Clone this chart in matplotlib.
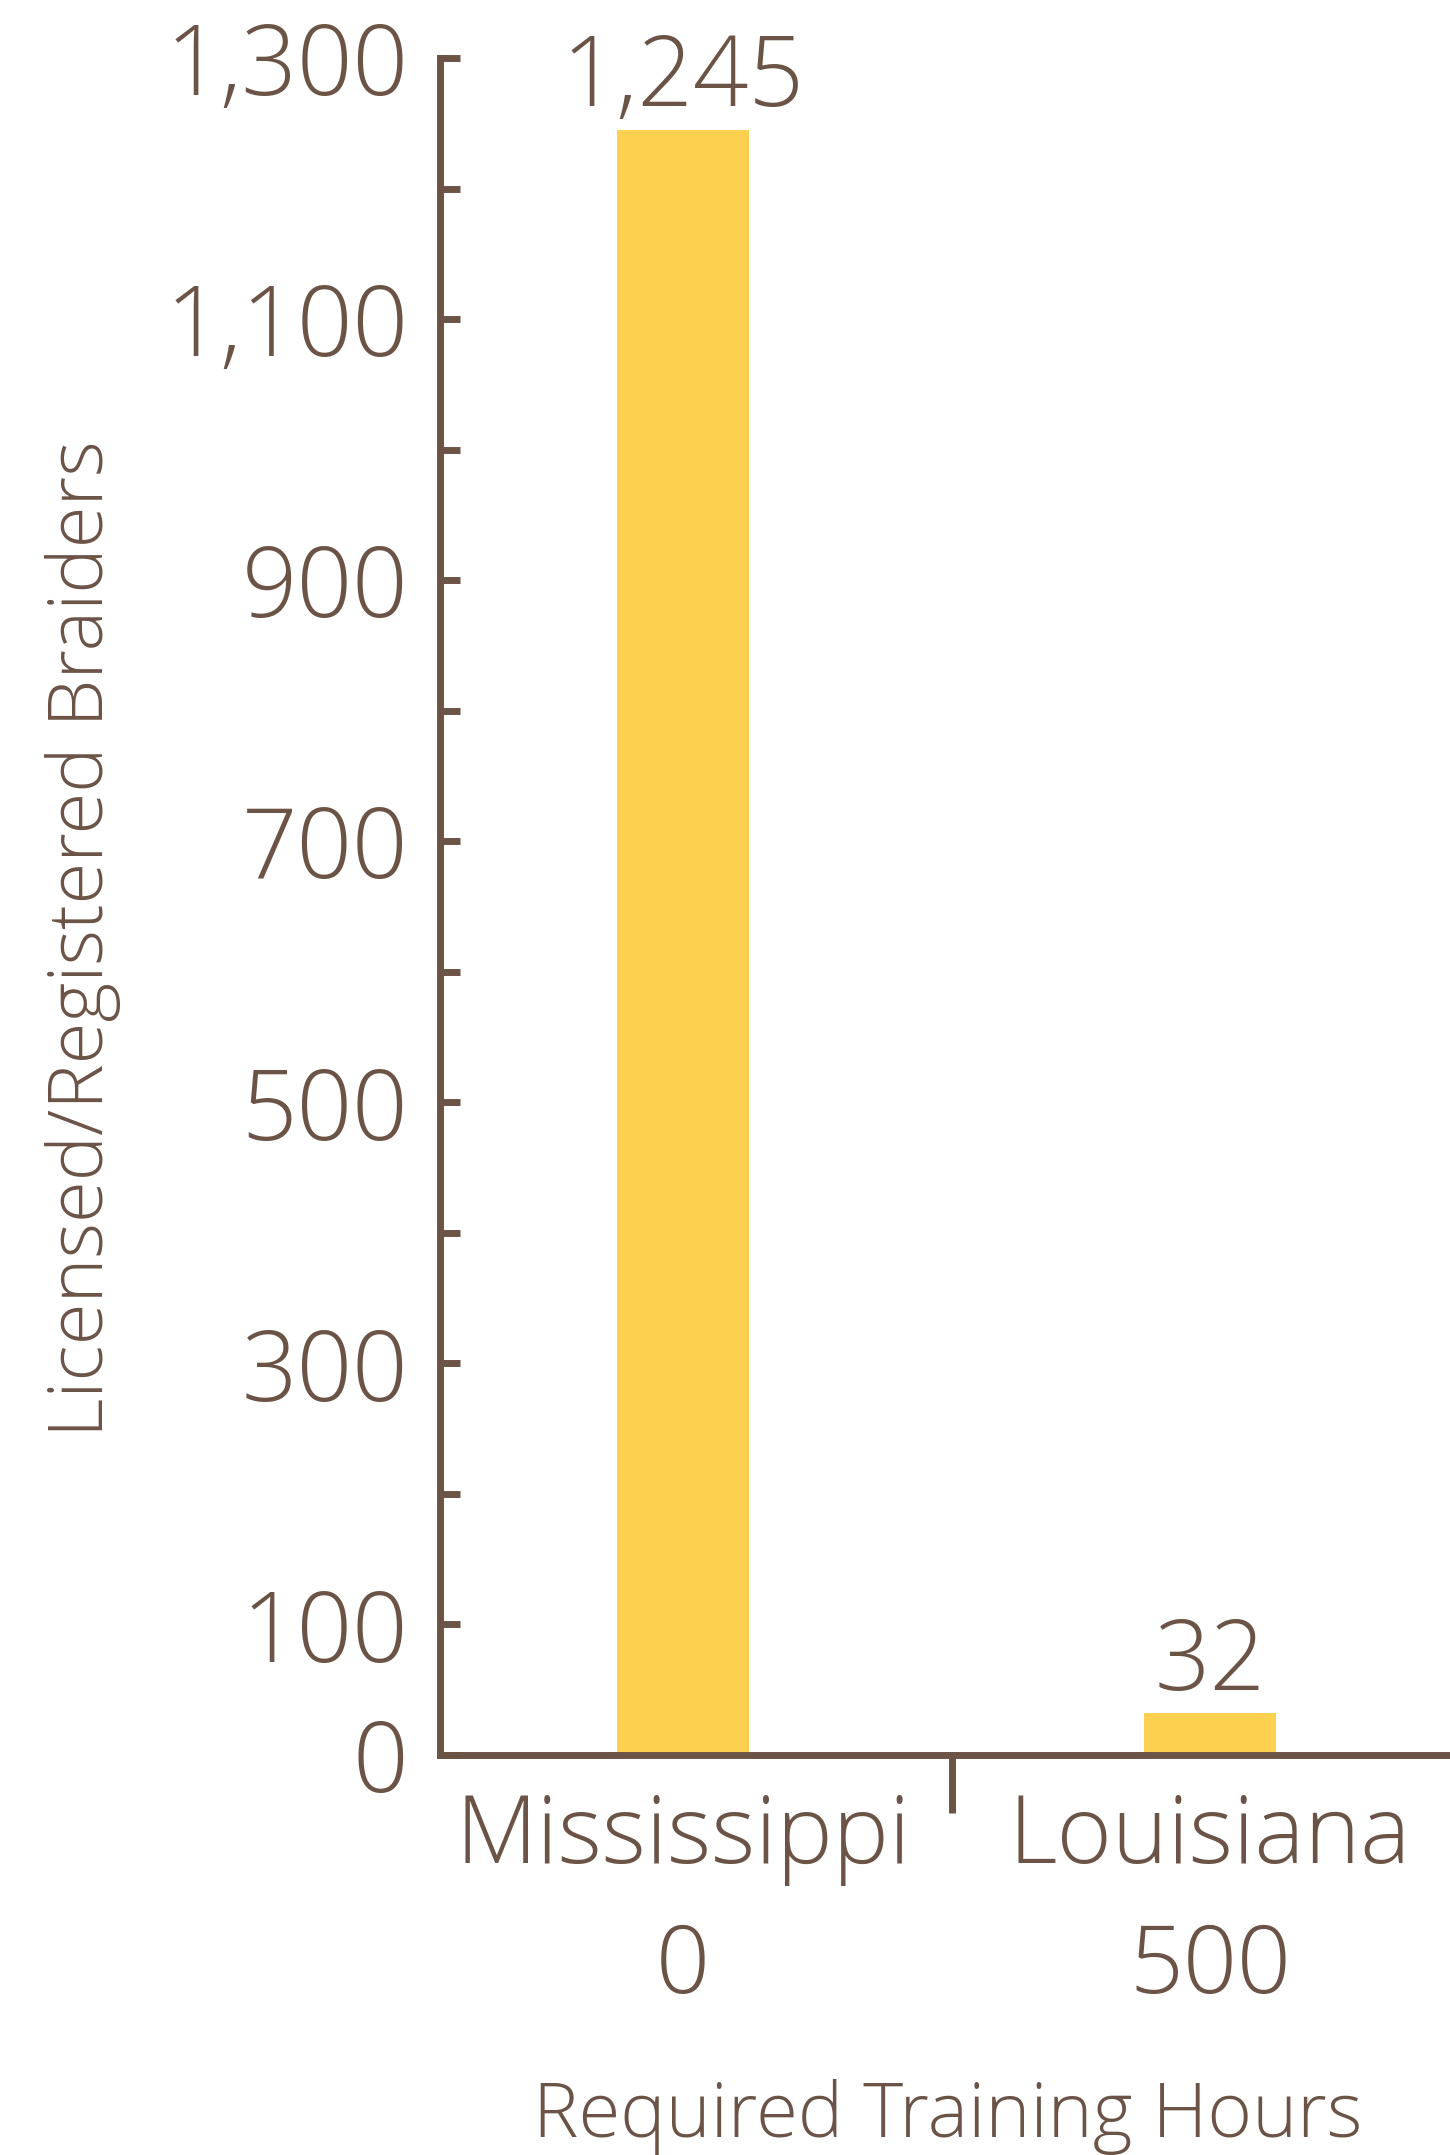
import matplotlib
matplotlib.use('Agg')
import matplotlib.pyplot as plt
from matplotlib.ticker import FixedLocator

# Data
states = ['Mississippi', 'Louisiana']
training_hours = [0, 500]
braiders = [1245, 32]
y_ticks = list(range(0, 1400, 100))
y_labels = [f'{v:,}' if (v == 0 or v % 200 == 100) else '' for v in y_ticks]

brown = '#6B5446'
gold = '#FDD04F'

plt.rcParams['font.family'] = ['Open Sans', 'DejaVu Sans']
plt.rcParams['font.weight'] = 'light'

fig = plt.figure(figsize=(14.5, 21.55), dpi=100)
ax = fig.add_axes([0.3034, 0.1856, 0.6966, 0.7875])

# Bars
x = list(range(len(states)))
ax.bar(x, braiders, width=0.25, color=gold)

# Value labels above bars
for xi, v in zip(x, braiders):
    ax.annotate(f'{v:,}', (xi, v), xytext=(0, 17), textcoords='offset points',
                ha='center', va='baseline', fontsize=70, color=brown)

ax.set_xlim(-0.461, 1.455)
ax.set_ylim(0, 1300)

# Spines
for side in ['top', 'right']:
    ax.spines[side].set_visible(False)
for side in ['left', 'bottom']:
    ax.spines[side].set_linewidth(5)
    ax.spines[side].set_color(brown)

# Y axis ticks
ax.set_yticks(y_ticks)
ax.set_yticklabels(y_labels)
ax.tick_params(axis='y', direction='in', length=14.5, width=5, color=brown,
               labelsize=70, labelcolor=brown, pad=23)

# X axis: state names + hours, separator tick between them
ax.set_xticks(x)
ax.set_xticklabels([f'{s}\n{h}' for s, h in zip(states, training_hours)],
                   linespacing=1.5)
ax.tick_params(axis='x', which='major', length=0, labelsize=68,
               labelcolor=brown, pad=26)
ax.xaxis.set_minor_locator(FixedLocator([0.51]))
ax.tick_params(axis='x', which='minor', direction='out', length=42, width=5,
               color=brown)

# Axis titles
fig.text(103 / 1450, 1 - 939 / 2155, 'Licensed/Registered Braiders',
         rotation=90, rotation_mode='anchor', ha='center', va='baseline',
         fontsize=55, color=brown)
fig.text(948 / 1450, (2155 - 2137) / 2155, 'Required Training Hours',
         ha='center', va='baseline', fontsize=55, color=brown)

fig.savefig('out.png', dpi=100)
